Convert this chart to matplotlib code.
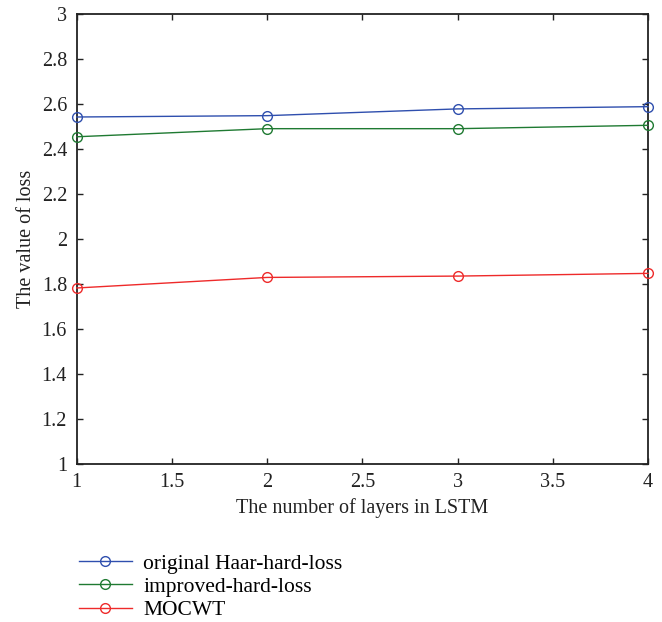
import matplotlib
matplotlib.use("Agg")
import matplotlib.pyplot as plt

layers = [1, 2, 3, 4]
haar_loss = [2.543, 2.549, 2.579, 2.589]
improved_loss = [2.455, 2.491, 2.491, 2.506]
mocwt_loss = [1.782, 1.829, 1.835, 1.847]
series_names = ["original Haar-hard-loss", "improved-hard-loss", "MOCWT"]
x_ticks = [1, 1.5, 2, 2.5, 3, 3.5, 4]
x_tick_labels = ["1", "1.5", "2", "2.5", "3", "3.5", "4"]
y_ticks = [1, 1.2, 1.4, 1.6, 1.8, 2, 2.2, 2.4, 2.6, 2.8, 3]
y_tick_labels = ["1", "1.2", "1.4", "1.6", "1.8", "2", "2.2", "2.4", "2.6", "2.8", "3"]

plt.rcParams["font.family"] = ["Liberation Serif", "DejaVu Serif"]

fig = plt.figure(figsize=(6.62, 6.22), dpi=100)
ax = fig.add_axes([0.1159, 0.2545, 0.8631, 0.7225])

colors = ["#2f4fae", "#1f7a32", "#ee2a2a"]
lines = []
for vals, c, name in zip([haar_loss, improved_loss, mocwt_loss], colors, series_names):
    ln, = ax.plot(layers, vals, color=c, lw=1.0, marker="o", markersize=7,
                  markerfacecolor="none", markeredgecolor=c, markeredgewidth=1.0,
                  label=name, clip_on=False, zorder=3)
    lines.append(ln)

ax.set_xlim(1, 4)
ax.set_ylim(1, 3)
ax.set_xticks(x_ticks)
ax.set_xticklabels(x_tick_labels)
ax.set_yticks(y_ticks)
ax.set_yticklabels(y_tick_labels)
ax.tick_params(direction="in", top=True, right=True, length=4, width=1.0,
               labelsize=14.5, colors="#222222")
ax.tick_params(axis="y", pad=7)
ax.tick_params(axis="x", pad=7)
for s in ax.spines.values():
    s.set_linewidth(1.3)
    s.set_color("#222222")

ax.set_xlabel("The number of layers in LSTM", fontsize=14.5, labelpad=4, color="#222222")
ax.set_ylabel("The value of loss", fontsize=14.5, labelpad=4, color="#222222")

fig.legend(handles=lines, loc="upper left", bbox_to_anchor=(0.119, 0.110), frameon=False,
           fontsize=15.5, handlelength=2.45, handletextpad=0.55, labelspacing=0.15,
           borderpad=0, borderaxespad=0)

fig.savefig("out.png", dpi=100)
